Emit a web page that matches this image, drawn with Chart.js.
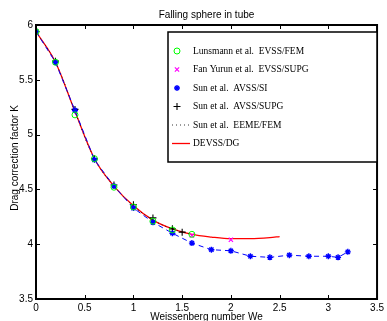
<!DOCTYPE html>
<html>
<head>
<meta charset="utf-8">
<script src="https://cdn.jsdelivr.net/npm/chart.js@4.4.1/dist/chart.umd.min.js"></script>
<style>
  html, body { margin: 0; padding: 0; background: #fff; }
  #wrap { width: 387px; height: 321px; }
</style>
</head>
<body>
<div id="wrap"><canvas id="c" width="387" height="321"></canvas></div>
<script>
// values
const xTicks = [0, 0.5, 1, 1.5, 2, 2.5, 3, 3.5];
const yTicks = [3.5, 4, 4.5, 5, 5.5, 6];

const lunsmannWe = [0, 0.2, 0.4, 0.6, 0.8, 1.0, 1.2, 1.4, 1.6];
const lunsmannK  = [5.94, 5.66, 5.18, 4.78, 4.52, 4.34, 4.21, 4.13, 4.09];

const fanWe = [1.6, 2.0];
const fanK  = [4.08, 4.04];

const avssSiWe = [0, 0.2, 0.4, 0.6, 0.8, 1.0, 1.2, 1.4, 1.6, 1.8, 2.0, 2.2, 2.4, 2.6, 2.8, 3.0, 3.1, 3.2];
const avssSiK  = [5.94, 5.66, 5.22, 4.77, 4.53, 4.33, 4.20, 4.10, 4.01, 3.95, 3.94, 3.89, 3.88, 3.90, 3.89, 3.89, 3.88, 3.93];

const avssSupgWe = [0, 0.2, 0.4, 0.6, 0.8, 1.0, 1.2, 1.4, 1.5];
const avssSupgK  = [5.94, 5.67, 5.23, 4.78, 4.54, 4.36, 4.24, 4.14, 4.11];

const eemeWe = [0, 0.2, 0.4, 0.6, 0.8, 1.0, 1.2, 1.4, 1.6];
const eemeK  = [5.94, 5.66, 5.21, 4.78, 4.53, 4.35, 4.22, 4.14, 4.09];

const devssWe = [0, 0.2, 0.4, 0.6, 0.8, 1.0, 1.2, 1.4, 1.6, 1.8, 2.0, 2.2, 2.4, 2.5];
const devssK  = [5.94, 5.66, 5.21, 4.78, 4.53, 4.35, 4.22, 4.14, 4.09, 4.065, 4.05, 4.05, 4.06, 4.07];

const pts = (xs, ys) => xs.map((x, i) => ({ x, y: ys[i] }));

const SANS = '"Liberation Sans", Arial, sans-serif';
const SERIF = '"Liberation Serif", "Times New Roman", serif';

// frame, inner ticks, title, axis labels and the boxed legend
const matlabLook = {
  id: 'matlabLook',
  afterDraw(chart) {
    const { ctx, chartArea: a, scales } = chart;
    const xs = scales.x, ys = scales.y;
    ctx.save();
    ctx.strokeStyle = '#000';
    ctx.lineWidth = 1;
    ctx.beginPath();
    xTicks.forEach(v => {
      const px = Math.round(xs.getPixelForValue(v)) + 0.5;
      ctx.moveTo(px, a.bottom); ctx.lineTo(px, a.bottom - 4);
      ctx.moveTo(px, a.top); ctx.lineTo(px, a.top + 4);
    });
    yTicks.forEach(v => {
      const py = Math.round(ys.getPixelForValue(v)) + 0.5;
      ctx.moveTo(a.left, py); ctx.lineTo(a.left + 4, py);
      ctx.moveTo(a.right, py); ctx.lineTo(a.right - 4, py);
    });
    ctx.stroke();
    ctx.lineWidth = 2;
    ctx.strokeRect(a.left, a.top, a.right - a.left, a.bottom - a.top);

    ctx.fillStyle = '#000';
    ctx.font = '10px ' + SANS;
    ctx.textAlign = 'center';
    ctx.textBaseline = 'alphabetic';
    ctx.fillText('Falling sphere in tube', (a.left + a.right) / 2, 18);
    ctx.fillText('Weissenberg number We', (a.left + a.right) / 2, 320);
    ctx.translate(18, (a.top + a.bottom) / 2 - 4);
    ctx.rotate(-Math.PI / 2);
    ctx.fillText('Drag correction factor K', 0, 0);
    ctx.restore();

    // legend
    ctx.save();
    const bx = 168, by = 32, bw = 209, bh = 130;
    ctx.fillStyle = '#fff';
    ctx.fillRect(bx, by, bw, bh);
    ctx.strokeStyle = '#000';
    ctx.lineWidth = 1.5;
    ctx.strokeRect(bx, by, bw, bh);
    ctx.font = '9.5px ' + SERIF;
    ctx.textAlign = 'left';
    ctx.textBaseline = 'middle';
    chart.data.datasets.forEach((ds, i) => {
      const cy = 51 + i * 18.5;
      const sx = 177;
      ctx.save();
      if (ds.pointRadius === 0) {
        ctx.strokeStyle = ds.borderColor;
        ctx.lineWidth = ds.borderWidth;
        ctx.setLineDash(ds.borderDash || []);
        ctx.beginPath();
        ctx.moveTo(172, cy); ctx.lineTo(190, cy);
        ctx.stroke();
      } else {
        ctx.strokeStyle = ds.borderColor;
        ctx.fillStyle = ds.backgroundColor;
        ctx.lineWidth = ds.pointBorderWidth || 1;
        Chart.helpers.drawPoint(ctx, {
          pointStyle: ds.pointStyle, radius: ds.pointRadius, borderWidth: ds.pointBorderWidth
        }, sx, cy);
      }
      ctx.restore();
      ctx.fillStyle = '#000';
      ctx.fillText(ds.label, 193, cy);
    });
    ctx.restore();
  }
};

new Chart(document.getElementById('c'), {
  type: 'scatter',
  data: {
    datasets: [
      {
        label: 'Lunsmann et al.  EVSS/FEM',
        data: pts(lunsmannWe, lunsmannK),
        showLine: false,
        pointStyle: 'circle', pointRadius: 3, pointBorderWidth: 1,
        borderColor: '#00ff00', backgroundColor: 'rgba(0,0,0,0)'
      },
      {
        label: 'Fan Yurun et al.  EVSS/SUPG',
        data: pts(fanWe, fanK),
        showLine: false,
        pointStyle: 'crossRot', pointRadius: 3, pointBorderWidth: 1.2,
        borderColor: '#ff00ff', backgroundColor: '#ff00ff'
      },
      {
        label: 'Sun et al.  AVSS/SI',
        data: pts(avssSiWe, avssSiK),
        showLine: true,
        borderColor: '#0000ff', backgroundColor: '#0000ff',
        borderWidth: 1, borderDash: [5, 4],
        pointStyle: 'star', pointRadius: 3, pointBorderWidth: 1.4
      },
      {
        label: 'Sun et al.  AVSS/SUPG',
        data: pts(avssSupgWe, avssSupgK),
        showLine: false,
        pointStyle: 'cross', pointRadius: 3.5, pointBorderWidth: 1.1,
        borderColor: '#000', backgroundColor: '#000'
      },
      {
        label: 'Sun et al.  EEME/FEM',
        data: pts(eemeWe, eemeK),
        showLine: true,
        borderColor: '#000', backgroundColor: '#000',
        borderWidth: 0.8, borderDash: [1, 3],
        pointRadius: 0, tension: 0.4
      },
      {
        label: 'DEVSS/DG',
        data: pts(devssWe, devssK),
        showLine: true,
        borderColor: '#ff0000', backgroundColor: '#ff0000',
        borderWidth: 1.3, pointRadius: 0,
        cubicInterpolationMode: 'monotone'
      }
    ]
  },
  options: {
    responsive: false,
    animation: false,
    events: [],
    layout: { padding: { top: 25, right: 3, left: 0, bottom: 0 } },
    plugins: { legend: { display: false }, title: { display: false }, tooltip: { enabled: false } },
    scales: {
      x: {
        type: 'linear', min: 0, max: 3.5,
        afterBuildTicks: s => { s.ticks = xTicks.map(v => ({ value: v })); },
        afterFit: s => { s.height = 22; },
        grid: { display: false, drawTicks: false },
        border: { display: false },
        ticks: { color: '#000', font: { family: SANS, size: 10 }, padding: 3, maxRotation: 0,
          callback: v => String(v) }
      },
      y: {
        type: 'linear', min: 3.5, max: 6,
        afterBuildTicks: s => { s.ticks = yTicks.map(v => ({ value: v })); },
        afterFit: s => { s.width = 36; },
        grid: { display: false, drawTicks: false },
        border: { display: false },
        ticks: { color: '#000', font: { family: SANS, size: 10 }, padding: 3,
          callback: v => String(v) }
      }
    }
  },
  plugins: [matlabLook]
});
</script>
</body>
</html>
